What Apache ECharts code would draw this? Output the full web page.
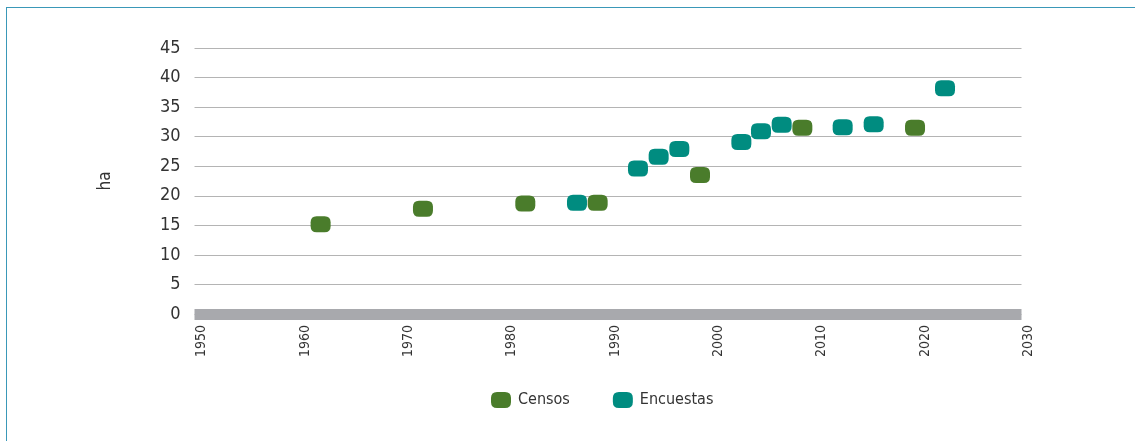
<!DOCTYPE html>
<html>
<head>
<meta charset="utf-8">
<script src="https://cdn.jsdelivr.net/npm/echarts@6/dist/echarts.min.js"></script>
<style>
html,body{margin:0;padding:0;background:#fff;overflow:hidden;}
#frame{position:absolute;left:6px;top:7px;width:1200px;height:500px;border-left:1px solid #3a98b8;border-top:1px solid #3a98b8;}
#chart{position:absolute;left:0;top:0;width:1135px;height:441px;}
</style>
</head>
<body>
<div id="frame"></div>
<div id="chart"></div>
<script>
// Data
const censosYears  = [1962.2, 1972.1, 1982.0, 1989.0, 1998.9, 2008.8, 2019.7];
const censosValues = [15.2, 17.8, 18.7, 18.8, 23.5, 31.5, 31.5];
const encuestasYears  = [1987.0, 1992.9, 1994.9, 1996.9, 2002.9, 2004.8, 2006.8, 2012.7, 2015.7, 2022.6];
const encuestasValues = [18.8, 24.6, 26.6, 27.9, 29.1, 30.9, 32.0, 31.6, 32.1, 38.2];
const seriesNames = ['Censos', 'Encuestas'];
const yAxisName = 'ha';

const FONT = "'DejaVu Sans Condensed', 'Liberation Sans Narrow', sans-serif";
const SYMBOL = 'path://M6,0 H14 Q20,0 20,6 V10 Q20,16 14,16 H6 Q0,16 0,10 V6 Q0,0 6,0 Z';

const chart = echarts.init(document.getElementById('chart'), null, {renderer: 'canvas'});
chart.setOption({
  animation: false,
  textStyle: {fontFamily: FONT},
  grid: {left: 194.5, right: 113.5, top: 48, bottom: 127, containLabel: false},
  xAxis: {
    type: 'value', min: 1950, max: 2030, interval: 10,
    axisLine: {show: true, onZero: false, lineStyle: {color: '#a8a9ad', width: 11, cap: 'butt'}},
    axisTick: {show: false},
    splitLine: {show: false},
    axisLabel: {rotate: 90, margin: 11, color: '#333', fontSize: 14, fontFamily: FONT,
      verticalAlign: 'top', formatter: v => String(v)}
  },
  yAxis: {
    type: 'value', min: 0, max: 45, interval: 5,
    name: yAxisName, nameLocation: 'middle', nameRotate: 90, nameGap: 80,
    nameTextStyle: {color: '#333', fontSize: 17, fontFamily: FONT},
    axisLine: {show: false}, axisTick: {show: false},
    splitLine: {show: true, lineStyle: {color: '#b4b4b4', width: 1}},
    axisLabel: {margin: 14, color: '#333', fontSize: 18, fontFamily: FONT}
  },
  legend: {
    left: 486, top: 387, itemWidth: 20, itemHeight: 16, itemGap: 43,
    textStyle: {color: '#333', fontSize: 16, fontFamily: FONT, padding: [0, 0, 0, 2]},
    data: [{name: seriesNames[0], icon: SYMBOL}, {name: seriesNames[1], icon: SYMBOL}]
  },
  series: [
    {name: seriesNames[0], type: 'scatter', symbol: SYMBOL, symbolSize: [20, 16],
     itemStyle: {color: '#4a7c2b', opacity: 1},
     data: censosYears.map((y, i) => [y, censosValues[i]])},
    {name: seriesNames[1], type: 'scatter', symbol: SYMBOL, symbolSize: [20, 16],
     itemStyle: {color: '#008c80', opacity: 1},
     data: encuestasYears.map((y, i) => [y, encuestasValues[i]])}
  ]
});
</script>
</body>
</html>
